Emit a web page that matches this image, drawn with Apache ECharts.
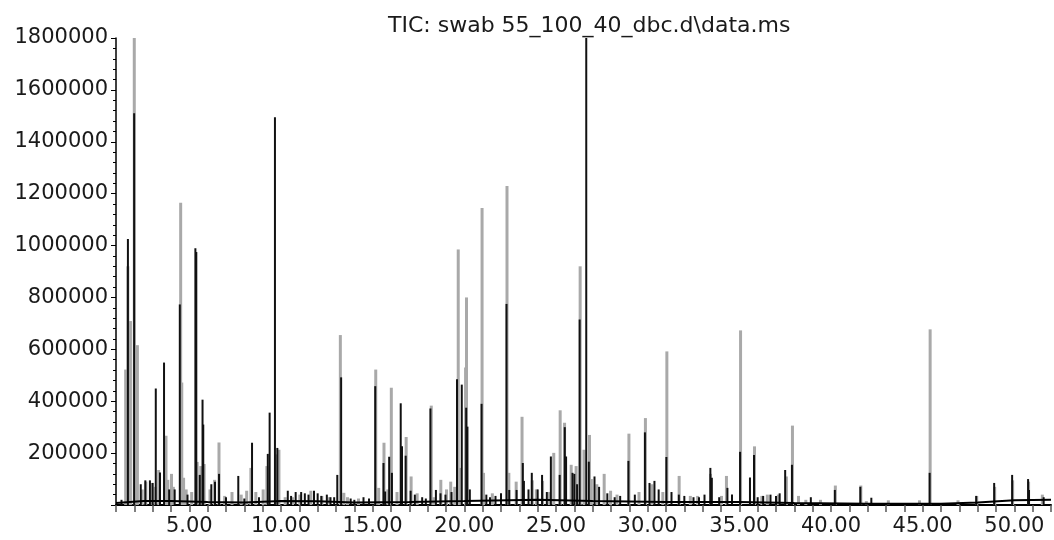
<!DOCTYPE html>
<html>
<head>
<meta charset="utf-8">
<script src="https://cdn.jsdelivr.net/npm/echarts@6/dist/echarts.min.js"></script>
<style>
html,body{margin:0;padding:0;background:#fff;}
#chart{width:1054px;height:540px;}
</style>
</head>
<body>
<div id="chart"></div>
<script>
const titleText = "TIC: swab 55_100_40_dbc.d\\data.ms";

// Peaks of the grey trace: [retention time (min), abundance]
const grayPeaks = [
  [1.50, 522000], [1.62, 920000], [1.76, 709000], [1.97, 1800000], [2.14, 616000],
  [2.40, 60000], [2.60, 90000], [2.90, 85000], [3.10, 70000], [3.30, 135000],
  [3.70, 267000], [3.80, 97000], [4.00, 120000], [4.10, 70000], [4.50, 1165000],
  [4.56, 472000], [4.66, 105000], [4.80, 60000], [5.10, 50000], [5.40, 166000],
  [5.60, 150000], [5.78, 158000], [6.10, 60000], [6.35, 97000], [6.59, 241000],
  [6.90, 35000], [7.30, 50000], [7.80, 40000], [8.10, 55000], [8.33, 143000],
  [8.60, 50000], [9.00, 60000], [9.20, 150000], [9.72, 195000], [9.86, 213000],
  [10.20, 30000], [10.60, 30000], [11.00, 40000], [11.60, 55000], [12.20, 35000],
  [12.60, 30000], [13.21, 655000], [13.40, 47000], [13.60, 30000], [14.20, 25000],
  [15.14, 522000], [15.30, 66000], [15.59, 240000], [15.80, 60000], [15.99, 452000],
  [16.30, 50000], [16.80, 262000], [17.07, 110000], [17.40, 45000], [18.17, 383000],
  [18.30, 30000], [18.69, 97000], [19.00, 60000], [19.23, 90000], [19.45, 70000],
  [19.64, 985000], [19.75, 143000], [20.04, 530000], [20.09, 800000], [20.94, 1145000],
  [21.02, 124000], [21.50, 45000], [22.30, 1230000], [22.40, 124000], [22.80, 90000],
  [23.12, 340000], [23.68, 95000], [23.90, 60000], [24.24, 93000], [24.60, 50000],
  [24.85, 201000], [25.20, 365000], [25.44, 317000], [25.80, 155000], [26.07, 150000],
  [26.29, 920000], [26.50, 213000], [26.80, 270000], [26.90, 100000], [27.20, 80000],
  [27.60, 120000], [27.95, 55000], [28.30, 40000], [28.95, 275000], [29.50, 50000],
  [29.85, 335000], [30.20, 80000], [30.80, 50000], [31.02, 592000], [31.69, 112000],
  [32.30, 35000], [32.70, 35000], [33.40, 120000], [34.00, 35000], [34.27, 112000],
  [35.04, 673000], [35.80, 226000], [36.20, 35000], [36.50, 40000], [37.10, 40000],
  [37.54, 110000], [37.87, 306000], [38.20, 35000], [38.60, 20000], [39.40, 20000],
  [40.21, 75000], [41.60, 75000], [41.90, 15000], [43.10, 18000], [44.80, 18000],
  [45.38, 677000], [46.90, 18000], [47.92, 35000], [48.90, 70000], [49.88, 95000],
  [50.75, 90000], [51.50, 40000]
];

// Peaks of the black trace
const blackPeaks = [
  [1.30, 20000], [1.65, 1025000], [1.99, 1510000], [2.35, 80000], [2.60, 95000],
  [2.85, 95000], [3.00, 85000], [3.17, 449000], [3.40, 125000], [3.62, 549000],
  [3.90, 60000], [4.20, 60000], [4.48, 773000], [4.90, 40000], [5.33, 990000],
  [5.38, 975000], [5.57, 116000], [5.72, 406000], [5.76, 310000], [6.20, 80000],
  [6.40, 90000], [6.62, 120000], [7.00, 30000], [7.67, 112000], [8.00, 25000],
  [8.42, 240000], [8.80, 30000], [9.28, 197000], [9.38, 356000], [9.67, 1495000],
  [9.80, 220000], [10.37, 55000], [10.55, 35000], [10.80, 50000], [11.10, 50000],
  [11.30, 45000], [11.50, 40000], [11.80, 55000], [12.00, 45000], [12.20, 35000],
  [12.50, 40000], [12.70, 30000], [12.90, 30000], [13.07, 116000], [13.28, 492000],
  [13.80, 25000], [14.00, 20000], [14.50, 30000], [14.80, 25000], [15.14, 458000],
  [15.59, 162000], [15.68, 52000], [15.90, 186000], [16.05, 124000], [16.53, 392000],
  [16.60, 226000], [16.80, 190000], [17.07, 55000], [17.30, 40000], [17.70, 30000],
  [17.90, 25000], [18.15, 372000], [18.45, 58000], [18.70, 45000], [18.97, 40000],
  [19.30, 50000], [19.60, 485000], [19.86, 464000], [20.10, 375000], [20.17, 302000],
  [20.30, 60000], [20.94, 390000], [21.20, 40000], [21.40, 30000], [21.70, 35000],
  [22.00, 45000], [22.30, 775000], [22.45, 58000], [22.85, 58000], [23.19, 162000],
  [23.25, 93000], [23.50, 60000], [23.68, 124000], [24.00, 60000], [24.24, 116000],
  [24.50, 50000], [24.72, 187000], [25.20, 116000], [25.48, 300000], [25.55, 187000],
  [25.90, 124000], [26.00, 120000], [26.15, 80000], [26.29, 715000], [26.65, 1800000],
  [26.79, 167000], [27.10, 110000], [27.35, 70000], [27.80, 45000], [28.20, 30000],
  [28.50, 35000], [28.95, 170000], [29.30, 40000], [29.85, 280000], [30.10, 85000],
  [30.37, 93000], [30.60, 60000], [31.02, 185000], [31.30, 50000], [31.70, 40000],
  [32.00, 35000], [32.50, 30000], [32.80, 30000], [33.10, 40000], [33.42, 143000],
  [33.50, 105000], [33.90, 30000], [34.35, 66000], [34.60, 40000], [35.04, 205000],
  [35.58, 106000], [35.80, 193000], [36.00, 30000], [36.30, 35000], [36.70, 40000],
  [37.00, 35000], [37.20, 45000], [37.50, 135000], [37.87, 155000], [38.90, 30000],
  [40.21, 58000], [41.60, 70000], [42.20, 28000], [45.38, 124000], [47.92, 35000],
  [48.90, 85000], [49.88, 116000], [50.75, 100000], [50.80, 58000], [51.60, 30000]
];

// Noise floor of the black trace
const baseline = [
  [1.0, 8000], [2.5, 15000], [4.0, 15000], [6.0, 12000], [8.0, 10000], [10.0, 15000],
  [12.0, 14000], [14.0, 10000], [17.0, 12000], [20.0, 15000], [24.0, 20000],
  [27.0, 15000], [31.0, 12000], [35.0, 12000], [38.0, 8000], [42.0, 5000],
  [46.0, 5000], [48.0, 10000], [50.0, 18000], [52.0, 20000]
];

const xTicks = { min: 1, max: 52, step: 1, labelEvery: 5 };
const yTicks = { min: 0, max: 1800000, step: 200000 };

const chart = echarts.init(document.getElementById('chart'), null, {renderer: 'canvas'});
const FONT = 'DejaVu Sans';
chart.setOption({
  animation: false,
  backgroundColor: '#ffffff',
  title: {
    text: titleText,
    left: 383, top: 10,
    textStyle: {fontFamily: FONT, fontSize: 22, fontWeight: 'normal', color: '#1a1a1a'}
  },
  grid: {left: 116, top: 38, width: 944, height: 467, containLabel: false},
  xAxis: {
    type: 'value',
    min: xTicks.min, max: xTicks.max, interval: xTicks.step,
    axisLine: {show: true, onZero: false, lineStyle: {color: '#000', width: 2}},
    axisTick: {show: true, length: 7, lineStyle: {color: '#555', width: 1.5}},
    splitLine: {show: false},
    axisLabel: {
      margin: 11,
      fontFamily: FONT, fontSize: 21, color: '#1a1a1a',
      formatter: v => (Math.abs(v % xTicks.labelEvery) < 1e-9 ? v.toFixed(2) : '')
    }
  },
  yAxis: {
    type: 'value',
    min: yTicks.min, max: yTicks.max, interval: yTicks.step,
    axisLine: {show: true, lineStyle: {color: '#000', width: 1.5}},
    axisTick: {show: true, length: 5, lineStyle: {color: '#000'}},
    minorTick: {show: true, splitNumber: 5, length: 3, lineStyle: {color: '#000'}},
    splitLine: {show: false},
    axisLabel: {
      margin: 8, showMinLabel: false,
      fontFamily: FONT, fontSize: 21, color: '#1a1a1a',
      formatter: v => String(Math.round(v))
    }
  },
  series: [
    {
      name: 'grey', type: 'bar', data: grayPeaks, barWidth: 3,
      itemStyle: {color: '#a9a9a9'}, clip: true
    },
    {
      name: 'black', type: 'bar', data: blackPeaks, barWidth: 2, barGap: '-100%',
      itemStyle: {color: '#111'}, clip: true
    },
    {
      name: 'base', type: 'line', data: baseline, symbol: 'none',
      lineStyle: {color: '#000', width: 2}
    }
  ]
});
</script>
</body>
</html>
